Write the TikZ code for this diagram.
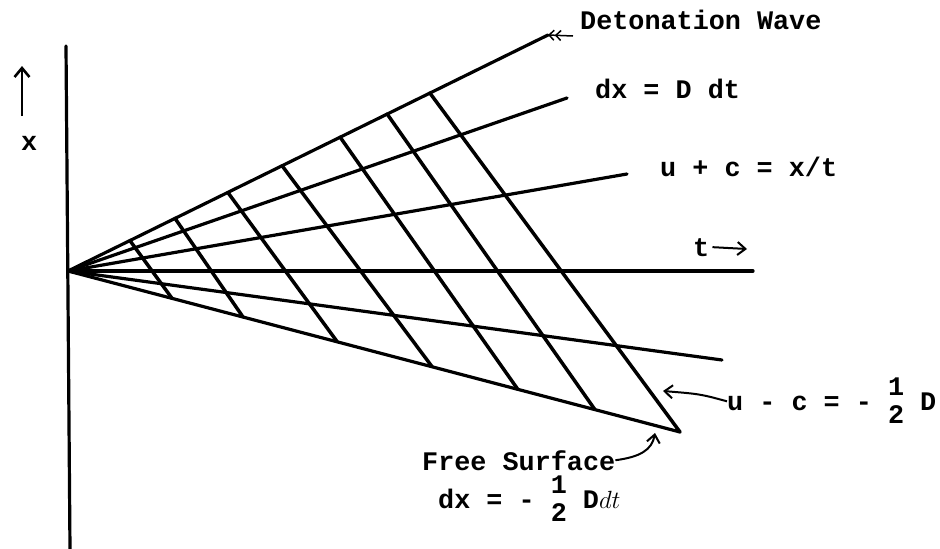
\documentclass[tikz,border=0pt]{standalone}
\usepackage{fontspec}
\newfontfamily\tw{Liberation Mono}
\usetikzlibrary{arrows.meta,calc}
\newcommand\typhalf[2]{\smash{\begin{tabular}[c]{@{}c@{}}#1\\[-3pt]#2\end{tabular}}}
\tikzset{
  ray/.style={line width=3.2pt, line cap=round},
  cross/.style={line width=3.5pt, line cap=round},
  lbl/.style={font=\tw\bfseries\fontsize{26.8}{31}\selectfont, inner sep=0pt, anchor=base west},
  pointer/.style={line width=2pt, -{Straight Barb[length=8pt,width=13pt,line width=2pt]}},
  dblpointer/.style={line width=1.5pt, -{Straight Barb[length=5pt,width=10pt] Straight Barb[length=5pt,width=10pt]}},
}
\begin{document}
\begin{tikzpicture}[x=1pt,y=-1pt]
\useasboundingbox (0,0) rectangle (940,549);
% axes
\coordinate (O) at (68,271);
\coordinate (Vtop) at (66,46);
\coordinate (Vbot) at (70,549);
\draw[ray] (Vtop) -- (Vbot);
\coordinate (Tend) at (753,271);
\draw[ray] (O) -- (Tend);
% rays
\coordinate (R1) at (548,35);
\coordinate (R2) at (567,98);
\coordinate (R3) at (627,174);
\coordinate (R5) at (722,360);
\coordinate (R6) at (680,432);
\foreach \r in {R1,R2,R3,R5,R6} \draw[ray] (O) -- (\r);
% cross characteristics
\foreach \i/\a/\b in {1/0.129/0.170, 2/0.223/0.286, 3/0.333/0.440, 4/0.446/0.595, 5/0.567/0.735, 6/0.665/0.861, 7/0.754/1.0}{
  \coordinate (top\i) at ($(O)!\a!(R1)$);
  \coordinate (bot\i) at ($(O)!\b!(R6)$);
  \draw[cross] (top\i) -- (bot\i);
}
% x axis label
\coordinate (xtail) at (22,116);
\coordinate (xtip) at (22,66);
\draw[line width=2.6pt, -{Straight Barb[length=9pt,width=15pt,line width=2.6pt]}] (xtail) -- (xtip);
\node[lbl] (xlab) at (21,150) {x};
% t label
\node[lbl] (tlab) at (693,256) {t};
\coordinate (ttip) at (747,249);
\draw[pointer] ($(tlab.east)+(3,0)$) -- (ttip);
% labels
\node[lbl] (det) at (580,29) {Detonation Wave};
\coordinate (dettail) at (573,36);
\draw[dblpointer] (dettail) -- (R1);
\node[lbl] (ddt) at (595,98) {dx = D dt};
\node[lbl] (upc) at (660,176) {u + c = x/t};
\node[lbl] (umc) at (727,410) {u - c = - \typhalf{1}{2} D};
\coordinate (umctip) at (663,391);
\draw[pointer] (umc.west) .. controls (700,394) .. (umctip);
\node[lbl] (fs) at (422,470) {Free Surface};
\node[lbl] (fsdx) at (438,508) {dx = - \typhalf{1}{2} D$dt$};
\coordinate (fstip) at (655,433);
\draw[pointer] (fs.east) .. controls (640,457) and (652,450) .. (fstip);
\end{tikzpicture}
\end{document}
